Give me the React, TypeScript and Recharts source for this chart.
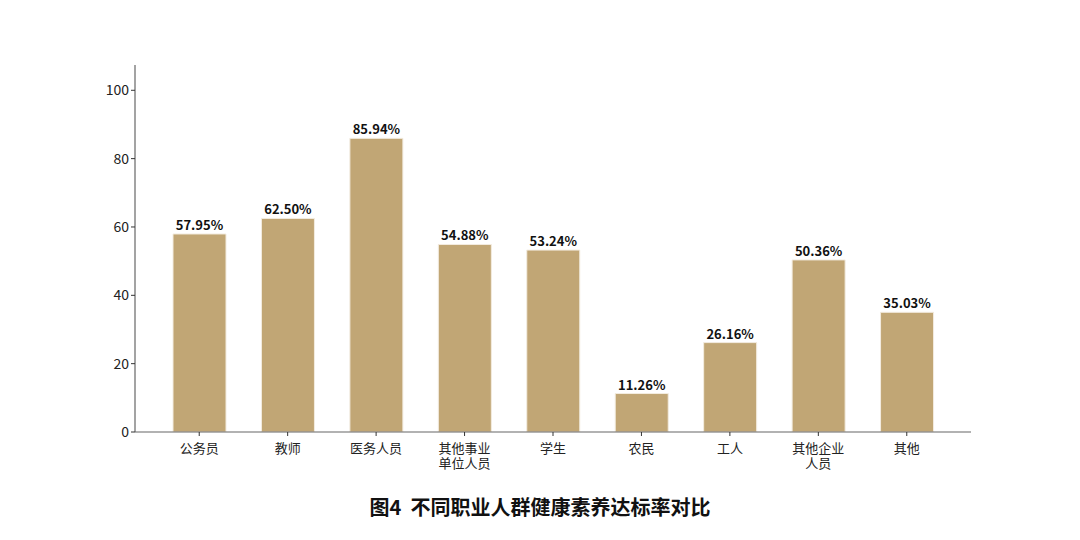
import React from "react";
import { BarChart, Bar, XAxis, YAxis, LabelList } from "recharts";

const categories = ["公务员", "教师", "医务人员", "其他事业\n单位人员", "学生", "农民", "工人", "其他企业\n人员", "其他"];
const rates = [57.95, 62.5, 85.94, 54.88, 53.24, 11.26, 26.16, 50.36, 35.03];
const yTicks = [0, 20, 40, 60, 80, 100];
const title = "图4  不同职业人群健康素养达标率对比";

const data = categories.map((c, i) => ({ name: c, value: rates[i] }));

const FONT = "'Noto Sans CJK SC', 'Noto Sans', sans-serif";

const XTick = (props: any) => {
  const { x, y, payload } = props;
  const lines = String(payload.value).split("\n");
  return (
    <g transform={`translate(${x},${y})`}>
      {lines.map((l, i) => (
        <text key={i} x={0} y={15 + i * 14.5} textAnchor="middle" fontFamily={FONT} fontSize={13} fill="#222">
          {l}
        </text>
      ))}
    </g>
  );
};

export default function App() {
  return (
    <div style={{ position: "absolute", left: 0, top: 0, width: 1080, height: 540, background: "#fff" }}>
      <BarChart
        width={1080}
        height={540}
        data={data}
        margin={{ top: 65, right: 109, bottom: 68, left: 85 }}
      >
        <XAxis
          dataKey="name"
          tick={<XTick />}
          interval={0}
          padding={{ left: 20, right: 20 }}
          axisLine={{ stroke: "#666", strokeWidth: 1.2 }}
          tickLine={{ stroke: "#333" }}
          tickSize={4}
          height={40}
        />
        <YAxis
          width={50}
          domain={[0, 107.4]}
          ticks={yTicks}
          allowDataOverflow
          axisLine={{ stroke: "#666", strokeWidth: 1.2 }}
          tickLine={{ stroke: "#333" }}
          tickSize={4}
          tick={{ fontFamily: FONT, fontSize: 14, fill: "#222" }}
        />
        <Bar dataKey="value" fill="#c1a675" stroke="#f3ece0" strokeWidth={1} barSize={53} isAnimationActive={false}>
          <LabelList
            dataKey="value"
            position="top"
            offset={4}
            formatter={(v: any) => `${Number(v).toFixed(2)}%`}
            style={{ fontFamily: FONT, fontSize: 13, fontWeight: 700, fill: "#111" }}
          />
        </Bar>
      </BarChart>
      <div
        style={{
          position: "absolute",
          left: 0,
          top: 492,
          width: 1080,
          textAlign: "center",
          fontFamily: FONT,
          fontWeight: 700,
          fontSize: 20,
          color: "#111",
          whiteSpace: "pre",
        }}
      >
        {title}
      </div>
    </div>
  );
}
